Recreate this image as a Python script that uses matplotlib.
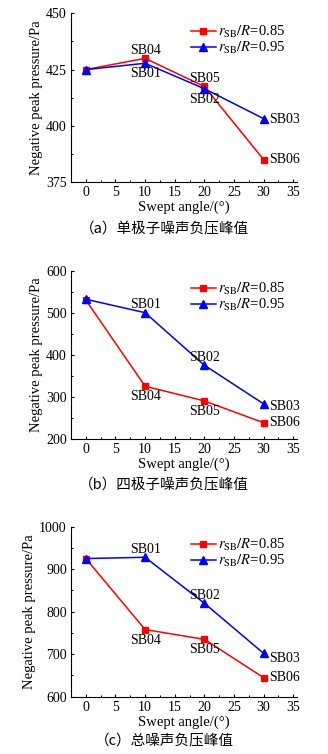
import matplotlib.pyplot as plt
from matplotlib.ticker import AutoMinorLocator

# Swept angle (deg)
angles = [0, 10, 20, 30]

# Negative peak pressure (Pa)
mono_085 = [425, 430, 417.5, 385]
mono_095 = [425, 427.8, 416.5, 403.2]
quad_085 = [530, 325, 290, 238]
quad_095 = [532, 500, 375, 283]
total_085 = [925, 758, 735, 645]
total_095 = [925, 928, 820, 702]

# case names: red series then blue series
names_085 = ["", "SB04", "SB05", "SB06"]
names_095 = ["", "SB01", "SB02", "SB03"]

captions = ["（a）单极子噪声负压峰值", "（b）四极子噪声负压峰值", "（c）总噪声负压峰值"]
y_limits = [(375, 450), (200, 600), (600, 1000)]
y_ticks = [[375, 400, 425, 450], [200, 300, 400, 500, 600], [600, 700, 800, 900, 1000]]

plt.rcParams['font.family'] = ['Liberation Serif', 'DejaVu Serif']
plt.rcParams['mathtext.fontset'] = 'stix'

fig = plt.figure(figsize=(3.28, 7.54), dpi=100)

# axes boxes in figure fraction
boxes = [
    [0.2165, 0.7586, 0.69, 0.2237],
    [0.2165, 0.4182, 0.69, 0.2228],
    [0.2165, 0.0760, 0.69, 0.2255],
]
caption_y = [0.696, 0.357, 0.017]

ABOVE = (0, 1.2, 'center', 'bottom')
BELOW = (0, -3, 'center', 'top')

# placement of the SB labels: red then blue, per panel
label_place = [
    ([None, ABOVE, ABOVE, (4, 0, 'left', 'center')],
     [None, BELOW, BELOW, (4, -1, 'left', 'center')]),
    ([None, BELOW, BELOW, (4, 0, 'left', 'center')],
     [None, ABOVE, ABOVE, (4, -2, 'left', 'center')]),
    ([None, BELOW, BELOW, (4, 0, 'left', 'center')],
     [None, ABOVE, ABOVE, (4, -4, 'left', 'center')]),
]

series = [(mono_085, mono_095), (quad_085, quad_095), (total_085, total_095)]

for i, (red, blue) in enumerate(series):
    ax = fig.add_axes(boxes[i])
    ax.plot(angles, red, color='#ff0000', marker='s', markersize=5, lw=1.1,
            label=r'$r_{\mathrm{SB}}/R$=0.85')
    ax.plot(angles, blue, color='#0000ff', marker='^', markersize=5.5, lw=1.1,
            label=r'$r_{\mathrm{SB}}/R$=0.95')

    ax.set_xlim(-2.5, 35.7)
    ax.set_ylim(*y_limits[i])
    ax.set_xticks([0, 5, 10, 15, 20, 25, 30, 35])
    ax.set_yticks(y_ticks[i])
    ax.xaxis.set_minor_locator(AutoMinorLocator(2))
    ax.yaxis.set_minor_locator(AutoMinorLocator(2))
    ax.spines['top'].set_visible(False)
    ax.spines['right'].set_visible(False)
    ax.tick_params(which='major', direction='in', length=2.5, width=0.8, labelsize=10, pad=3)
    ax.tick_params(which='minor', direction='in', length=1.4, width=0.7)
    ax.set_xlabel('Swept angle/(°)', fontsize=10.5, labelpad=1)
    ax.set_ylabel('Negative peak pressure/Pa', fontsize=10.5, labelpad=2)

    offs_r, offs_b = label_place[i]
    for vals, names, offs in [(red, names_085, offs_r), (blue, names_095, offs_b)]:
        for x, y, n, o in zip(angles, vals, names, offs):
            if not n:
                continue
            dx, dy, ha, va = o
            ax.annotate(n, (x, y), xytext=(dx, dy), textcoords='offset points',
                        ha=ha, va=va, fontsize=10)

    ax.legend(loc='upper right', bbox_to_anchor=(0.985, 0.99), frameon=False,
              fontsize=10.5, handlelength=1.7, handletextpad=0.15,
              labelspacing=0.0, borderaxespad=0.2)

    fig.text(0.5, caption_y[i], captions[i], ha='center', va='center', fontsize=10.5,
             family=['Noto Sans CJK SC', 'DejaVu Sans'])

fig.savefig('out.png', dpi=100)
